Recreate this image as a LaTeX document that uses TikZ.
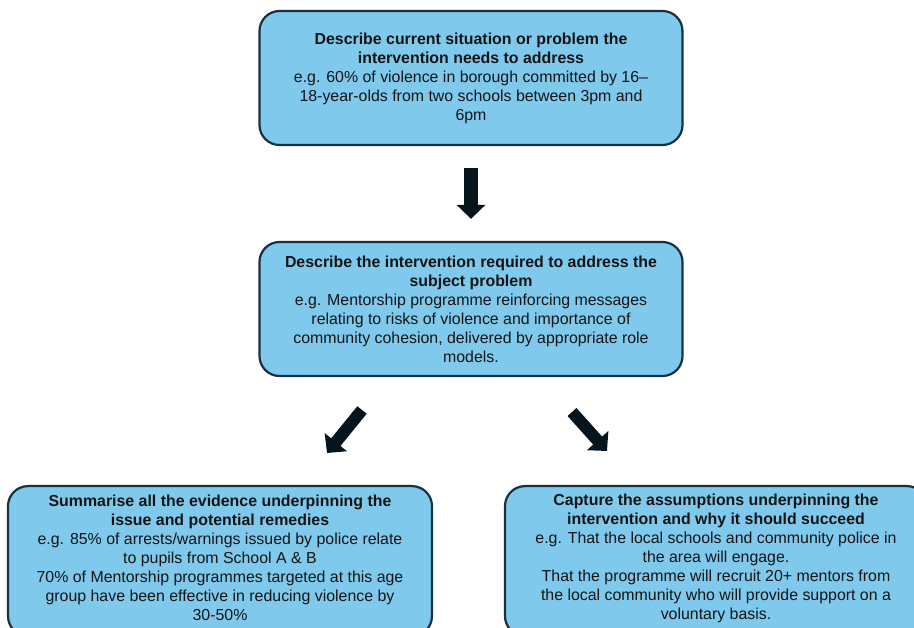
\documentclass[tikz,border=0pt]{standalone}
\usepackage{fontspec}
\setmainfont{Liberation Sans}
\usetikzlibrary{arrows.meta}
\definecolor{boxfill}{RGB}{127,201,236}
\definecolor{boxline}{RGB}{24,48,64}
\definecolor{arrowcol}{RGB}{6,20,30}
\definecolor{textcol}{RGB}{20,20,20}
\begin{document}
\begin{tikzpicture}[x=1pt,y=-1pt,
  infobox/.style={draw=boxline, line width=2.2pt, fill=boxfill, rounded corners=20pt,
    align=center, inner sep=0pt, text=textcol, font=\fontsize{15.9}{19}\selectfont},
  infotext/.style={align=center, inner sep=0pt, text=textcol, font=\fontsize{15.9}{19}\selectfont},
  blockarrow/.style={draw=arrowcol, line width=14pt, -{Triangle[width=28pt,length=14pt]}}]
\useasboundingbox (0,0) rectangle (914,628);
\node[infobox, minimum width=423pt, minimum height=134pt] (top) at (471,78)
 {\textbf{Describe current situation or problem the}\\
  \textbf{intervention needs to address}\\
  e.g. 60\% of violence in borough committed by 16–\\
  18-year-olds from two schools between 3pm and\\
  6pm};
\node[infobox, minimum width=423pt, minimum height=134pt] (mid) at (471,309)
 {\textbf{Describe the intervention required to address the}\\
  \textbf{subject problem}\\
  e.g. Mentorship programme reinforcing messages\\
  relating to risks of violence and importance of\\
  community cohesion, delivered by appropriate role\\
  models.};
\node[infobox, minimum width=424pt, minimum height=150pt, anchor=north] (left) at (220,485) {};
\node[infotext] (lefttext) at (220,558)
 {\textbf{Summarise all the evidence underpinning the}\\
  \textbf{issue and potential remedies}\\
  e.g. 85\% of arrests/warnings issued by police relate\\
  to pupils from School A \& B\\
  70\% of Mentorship programmes targeted at this age\\
  group have been effective in reducing violence by\\
  30-50\%};
\node[infobox, minimum width=422pt, minimum height=150pt, anchor=north] (right) at (716,485) {};
\node[infotext] (righttext) at (716,558)
 {\textbf{Capture the assumptions underpinning the}\\
  \textbf{intervention and why it should succeed}\\
  e.g. That the local schools and community police in\\
  the area will engage.\\
  That the programme will recruit 20+ mentors from\\
  the local community who will provide support on a\\
  voluntary basis.};
\coordinate (la) at (362,410);
\coordinate (lb) at (327,453);
\coordinate (ra) at (572,412);
\coordinate (rb) at (607,451);
\draw[blockarrow, shorten <=22pt, shorten >=22pt] (top.south) -- (mid.north);
\draw[blockarrow, line width=12pt] (la) -- (lb);
\draw[blockarrow, line width=12pt] (ra) -- (rb);
\end{tikzpicture}
\end{document}
